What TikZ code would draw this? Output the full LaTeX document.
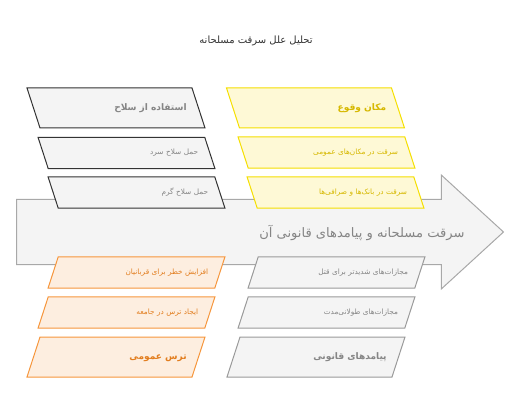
\documentclass[tikz,border=0pt]{standalone}
\usepackage{fontspec}
\usepackage{tikz}
\usepackage{xcolor}
\usetikzlibrary{shapes, arrows, positioning}
\newfontfamily\arabicfont[Script=Arabic]{DejaVu Sans}
\TeXXeTstate=1
\definecolor{grayfill}{HTML}{F4F4F4}
\definecolor{darkline}{HTML}{333333}
\definecolor{grayline}{HTML}{9A9A9A}
\definecolor{arrowline}{HTML}{A8A8A8}
\definecolor{graytext}{HTML}{858585}
\definecolor{yellowfill}{HTML}{FEF9D6}
\definecolor{yellowline}{HTML}{F5DF00}
\definecolor{yellowtext}{HTML}{D6B800}
\definecolor{orangefill}{HTML}{FDEEE0}
\definecolor{orangeline}{HTML}{F6963C}
\definecolor{orangetext}{HTML}{E27D1E}
\definecolor{titletext}{HTML}{333333}

\begin{document}
\begin{tikzpicture}[x=0.75pt, y=-0.75pt, line width=0.75pt,
    box/.style={trapezium, draw, align=right},
    head/.style={box, text height=5.5pt, text depth=1.5pt, inner ysep=11.5pt, text width=106pt, inner xsep=4pt, font=\arabicfont\bfseries\fontsize{6.8}{9}\selectfont},
    sub/.style={box, text height=4pt, text depth=1.5pt, inner ysep=9pt, text width=107.4pt, inner xsep=5pt, font=\arabicfont\fontsize{5.5}{7}\selectfont},
    down/.style={trapezium left angle=108, trapezium right angle=72},
    up/.style={trapezium left angle=72, trapezium right angle=108},
    graybox/.style={fill=grayfill, text=graytext},
    yellowbox/.style={draw=yellowline, fill=yellowfill, text=yellowtext},
    orangebox/.style={draw=orangeline, fill=orangefill, text=orangetext}]
        \useasboundingbox (0,0) rectangle (522,410);
        \node [font=\arabicfont\fontsize{7.5}{9}\selectfont, text=titletext] (title) at (256,41) {\beginR تحلیل علل سرقت مسلحانه\endR};
        % main arrow
        \node [single arrow, draw=arrowline, fill=grayfill, inner sep=24pt, minimum height=365.25pt, single arrow head extend=18.4pt, single arrow tip angle=85, anchor=tail] (arrow) at (16,232) {};
        \node [anchor=east, inner sep=0pt, text=graytext, font=\arabicfont\fontsize{9.8}{12}\selectfont] (topic) at (465,233) {\beginR سرقت مسلحانه و پیامدهای قانونی آن\endR};
        % weapon
        \node [head, down, graybox, draw=darkline] (weapon) at (116,108) {\beginR استفاده از سلاح\endR};
        \node [sub, down, graybox, draw=darkline] (cold) at (126.5,153) {\beginR حمل سلاح سرد\endR};
        \node [sub, down, graybox, draw=darkline] (firearm) at (136.5,192.5) {\beginR حمل سلاح گرم\endR};
        % place
        \node [head, down, yellowbox] (place) at (315.5,108) {\beginR مکان وقوع\endR};
        \node [sub, down, yellowbox] (public) at (326.5,152.5) {\beginR سرقت در مکان‌های عمومی\endR};
        \node [sub, down, yellowbox] (banks) at (335.5,192.5) {\beginR سرقت در بانک‌ها و صرافی‌ها\endR};
        % fear
        \node [sub, up, orangebox] (risk) at (136.5,272.5) {\beginR افزایش خطر برای قربانیان\endR};
        \node [sub, up, orangebox] (society) at (126.5,312.5) {\beginR ایجاد ترس در جامعه\endR};
        \node [head, up, orangebox] (fear) at (116,357) {\beginR ترس عمومی\endR};
        % law
        \node [sub, up, graybox, draw=grayline] (murder) at (336.5,272.5) {\beginR مجازات‌های شدیدتر برای قتل\endR};
        \node [sub, up, graybox, draw=grayline] (prison) at (326.5,312.5) {\beginR مجازات‌های طولانی‌مدت\endR};
        \node [head, up, graybox, draw=grayline] (law) at (316,357) {\beginR پیامدهای قانونی\endR};
    \end{tikzpicture}
\end{document}
